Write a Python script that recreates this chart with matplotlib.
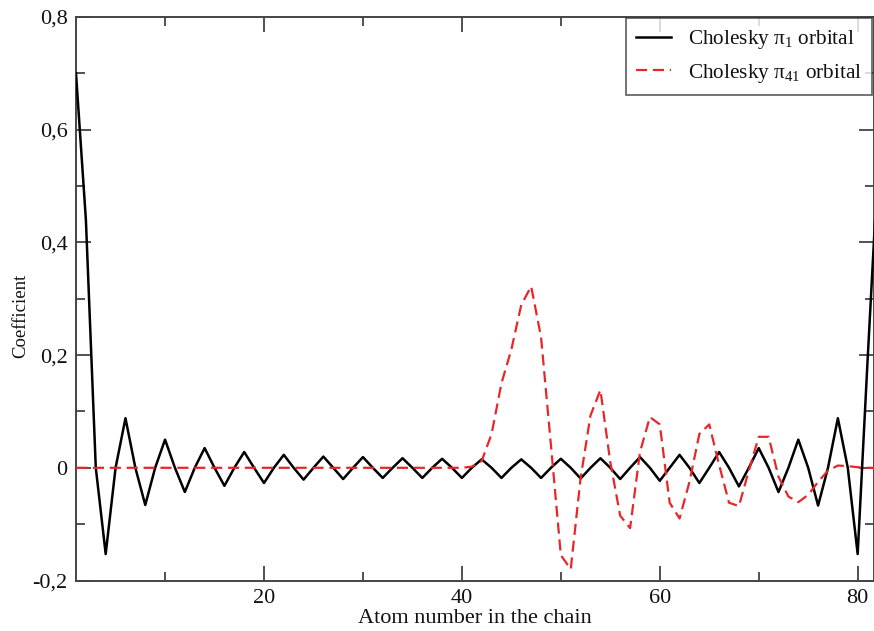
import matplotlib
matplotlib.use("Agg")
import matplotlib.pyplot as plt
from matplotlib.ticker import MultipleLocator, FuncFormatter

atoms = list(range(1, 83))

pi1 = [0.700, 0.440, 0.0, -0.153, 0.0, 0.088, 0.0, -0.066, 0.0, 0.050,
       0.0, -0.043, 0.0, 0.035, 0.0, -0.032, 0.0, 0.028, 0.0, -0.027,
       0.0, 0.023, 0.0, -0.021, 0.0, 0.020, 0.0, -0.020, 0.0, 0.019,
       0.0, -0.018, 0.0, 0.017, 0.0, -0.018, 0.0, 0.016, 0.0, -0.018,
       0.0, 0.015, 0.0, -0.018, 0.0, 0.015, 0.0, -0.018, 0.0, 0.016,
       0.0, -0.019, 0.0, 0.017, 0.0, -0.020, 0.0, 0.019, 0.0, -0.023,
       0.0, 0.023, 0.0, -0.027, 0.0, 0.028, 0.0, -0.033, 0.0, 0.035,
       0.0, -0.043, 0.0, 0.050, 0.0, -0.067, 0.0, 0.088, 0.0, -0.153,
       0.19, 0.52]

pi41 = [0.0] * 40 + [
       0.002, 0.012, 0.060, 0.150, 0.210, 0.289, 0.322, 0.232, 0.040, -0.155,
       -0.180, -0.018, 0.093, 0.138, 0.010, -0.085, -0.107, 0.028, 0.090, 0.077,
       -0.062, -0.090, -0.025, 0.060, 0.077, 0.005, -0.062, -0.068, -0.005, 0.055,
       0.055, -0.016, -0.051, -0.061, -0.048, -0.025, -0.005, 0.004, 0.003, 0.001,
       0.0, 0.0]

label1 = "Cholesky π$_{1}$ orbital"
label41 = "Cholesky π$_{41}$ orbital"
xlabel = "Atom number in the chain"
ylabel = "Coefficient"

plt.rcParams['font.family'] = ['Liberation Serif', 'DejaVu Serif']
plt.rcParams['mathtext.fontset'] = 'custom'
plt.rcParams['mathtext.rm'] = 'Liberation Serif'
plt.rcParams['mathtext.it'] = 'Liberation Serif'

fig = plt.figure(figsize=(8.74, 6.31), dpi=100)
ax = fig.add_axes([76/874, 1 - 580.5/631, (873.5-76)/874, (580.5-17)/631])

ax.plot(atoms, pi1, color='black', lw=1.8, label=label1, zorder=3)
ax.plot(atoms, pi41, color='#e8262a', lw=1.6, dashes=(5, 2.6), label=label41, zorder=4)

ax.set_xlim(1, 81.6)
ax.set_ylim(-0.2, 0.8)
ax.xaxis.set_major_locator(MultipleLocator(20))
ax.xaxis.set_minor_locator(MultipleLocator(10))
ax.yaxis.set_major_locator(MultipleLocator(0.2))
ax.yaxis.set_minor_locator(MultipleLocator(0.1))

def yfmt(v, pos):
    if abs(v) < 1e-9:
        return "0"
    return f"{v:.1f}".replace('.', ',')

ax.yaxis.set_major_formatter(FuncFormatter(yfmt))

ax.tick_params(which='both', direction='in', top=True, right=True, colors='#333333',
               labelcolor='#111111', labelsize=16)
ax.tick_params(which='major', length=11, width=1.2, pad=6)
ax.tick_params(which='minor', length=6.5, width=1.2)
for s in ax.spines.values():
    s.set_color('#444444')
    s.set_linewidth(1.4)

ax.set_xlabel(xlabel, fontsize=16, labelpad=1, color='#111111')
ax.set_ylabel(ylabel, fontsize=13.5, color='#111111')
ax.yaxis.set_label_coords(-0.058, 0.469)

leg = ax.legend(loc='upper right', fontsize=15.3, frameon=True, fancybox=False,
                edgecolor='#333333', handlelength=1.65, borderpad=0.47,
                labelspacing=0.5, handletextpad=0.8, borderaxespad=0.05)
leg.get_frame().set_linewidth(1.2)
for t in leg.get_texts():
    t.set_color('#111111')

fig.savefig("out.png", dpi=100)
